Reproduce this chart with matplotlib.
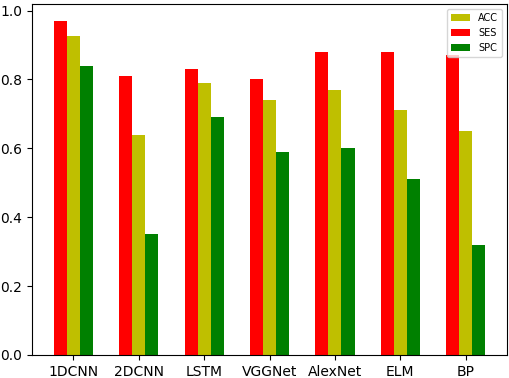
import matplotlib
matplotlib.use('Agg')
import matplotlib.pyplot as plt
import numpy as np

models = ['1DCNN', '2DCNN', 'LSTM', 'VGGNet', 'AlexNet', 'ELM', 'BP']
acc = [0.925, 0.64, 0.79, 0.74, 0.77, 0.71, 0.65]
ses = [0.97, 0.81, 0.83, 0.80, 0.88, 0.88, 0.87]
spc = [0.84, 0.35, 0.69, 0.59, 0.60, 0.51, 0.32]

x = np.arange(len(models))
w = 0.2

fig, ax = plt.subplots(figsize=(5.1, 3.78), dpi=100)
ax.bar(x, acc, w, color='y', label='ACC')
ax.bar(x - w, ses, w, color='r', label='SES')
ax.bar(x + w, spc, w, color='g', label='SPC')
ax.set_xticks(x)
ax.set_xticklabels(models)
ax.legend(loc='upper right', fontsize=7)

fig.subplots_adjust(left=0.063, right=0.994, top=0.989, bottom=0.061)
fig.savefig('out.png')
